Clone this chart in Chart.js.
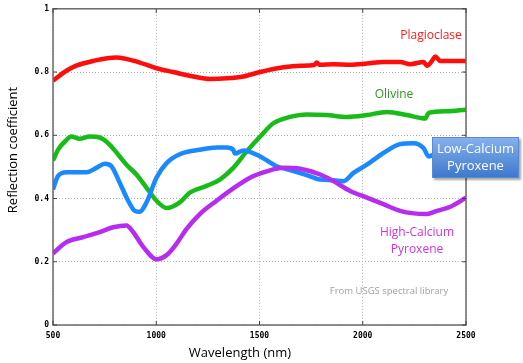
<!DOCTYPE html>
<html>
<head>
<meta charset="utf-8">
<script src="https://cdn.jsdelivr.net/npm/chart.js@4.4.1/dist/chart.umd.min.js"></script>
<style>
  html, body { margin: 0; padding: 0; background: #fff; }
  #wrap { width: 523px; height: 363px; }
</style>
</head>
<body>
<div id="wrap"><canvas id="chart" width="523" height="363"></canvas></div>
<script>
// Spectra (wavelength in nm, reflection coefficient)
const plagioclaseNm = [500, 565, 613, 694, 807, 920, 1001, 1082, 1179, 1260, 1341, 1422, 1503, 1616, 1697, 1765, 1777, 1790, 1858, 1939, 2020, 2100, 2181, 2230, 2295, 2311, 2335, 2351, 2376, 2500];
const plagioclaseR  = [0.773, 0.804, 0.820, 0.835, 0.846, 0.830, 0.812, 0.800, 0.786, 0.778, 0.780, 0.786, 0.800, 0.815, 0.820, 0.822, 0.830, 0.823, 0.825, 0.823, 0.827, 0.832, 0.832, 0.825, 0.832, 0.820, 0.835, 0.849, 0.835, 0.835];

const olivineNm = [500, 524, 565, 589, 629, 678, 726, 775, 823, 856, 904, 953, 1001, 1050, 1114, 1163, 1244, 1308, 1373, 1438, 1503, 1567, 1648, 1729, 1826, 1923, 2020, 2117, 2214, 2278, 2303, 2319, 2408, 2500];
const olivineR  = [0.520, 0.554, 0.585, 0.596, 0.589, 0.596, 0.593, 0.570, 0.533, 0.507, 0.476, 0.434, 0.393, 0.370, 0.388, 0.419, 0.440, 0.460, 0.497, 0.549, 0.596, 0.638, 0.658, 0.666, 0.664, 0.658, 0.664, 0.674, 0.664, 0.655, 0.653, 0.671, 0.676, 0.681];

const lowCaNm = [500, 524, 565, 662, 710, 751, 783, 823, 864, 896, 920, 953, 1001, 1050, 1114, 1211, 1292, 1341, 1373, 1381, 1422, 1503, 1583, 1648, 1729, 1794, 1858, 1907, 1955, 2020, 2100, 2181, 2246, 2295, 2319, 2360, 2500];
const lowCaR  = [0.429, 0.471, 0.483, 0.483, 0.497, 0.510, 0.502, 0.450, 0.393, 0.361, 0.358, 0.388, 0.466, 0.512, 0.540, 0.554, 0.561, 0.561, 0.554, 0.542, 0.552, 0.533, 0.502, 0.490, 0.474, 0.460, 0.458, 0.455, 0.481, 0.507, 0.544, 0.572, 0.575, 0.559, 0.533, 0.545, 0.555];

const highCaNm = [500, 565, 646, 726, 791, 856, 888, 937, 1001, 1050, 1098, 1147, 1211, 1292, 1373, 1454, 1535, 1616, 1697, 1794, 1858, 1939, 2020, 2100, 2181, 2246, 2311, 2359, 2424, 2500];
const highCaR  = [0.226, 0.262, 0.278, 0.294, 0.309, 0.315, 0.294, 0.247, 0.208, 0.221, 0.257, 0.304, 0.351, 0.393, 0.432, 0.466, 0.486, 0.497, 0.494, 0.476, 0.455, 0.424, 0.403, 0.382, 0.361, 0.353, 0.351, 0.361, 0.374, 0.403];

const xTicks = [500, 1000, 1500, 2000, 2500];
const yTicks = [0, 0.2, 0.4, 0.6, 0.8, 1];

function toPoints(xs, ys) {
  return xs.map((x, i) => ({ x: x, y: ys[i] }));
}

function line(label, xs, ys, color) {
  return {
    label: label,
    data: toPoints(xs, ys),
    borderColor: color,
    backgroundColor: color,
    borderWidth: 4.5,
    pointRadius: 0,
    tension: 0.35,
    cubicInterpolationMode: "monotone",
    fill: false
  };
}

// frame, inner ticks, axis titles and labels
const decorations = {
  id: "decorations",
  afterDatasetsDraw(chart) {
    const { ctx, chartArea: a, scales } = chart;
    ctx.save();

    // frame
    ctx.strokeStyle = "#6a6a6a";
    ctx.lineWidth = 1.5;
    ctx.strokeRect(a.left, a.top, a.right - a.left, a.bottom - a.top);

    // small inward ticks on every side
    ctx.lineWidth = 1;
    ctx.strokeStyle = "#444";
    ctx.beginPath();
    yTicks.forEach(v => {
      const y = scales.y.getPixelForValue(v);
      ctx.moveTo(a.left, y); ctx.lineTo(a.left + 4, y);
      ctx.moveTo(a.right, y); ctx.lineTo(a.right - 4, y);
    });
    xTicks.forEach(v => {
      const x = scales.x.getPixelForValue(v);
      ctx.moveTo(x, a.bottom); ctx.lineTo(x, a.bottom - 4);
      ctx.moveTo(x, a.top); ctx.lineTo(x, a.top + 4);
    });
    ctx.stroke();

    // curve labels
    ctx.textAlign = "center";
    ctx.textBaseline = "middle";
    ctx.font = "12px 'Open Sans'";
    ctx.fillStyle = "#ff1a1a";
    ctx.fillText("Plagioclase", 431, 36);
    ctx.fillStyle = "#2c9a1c";
    ctx.fillText("Olivine", 394, 95);
    ctx.fillStyle = "#cc33dd";
    ctx.fillText("High-Calcium", 417, 233);
    ctx.fillText("Pyroxene", 417, 250);

    ctx.font = "9.5px 'Open Sans'";
    ctx.fillStyle = "#a0a0a0";
    ctx.fillText("From USGS spectral library", 389, 291);

    // Low-Calcium Pyroxene box
    const bx = 432, by = 137, bw = 87, bh = 41;
    ctx.shadowColor = "rgba(0,0,0,0.35)";
    ctx.shadowOffsetX = 1.5;
    ctx.shadowOffsetY = 1.5;
    ctx.shadowBlur = 2;
    const g = ctx.createLinearGradient(0, by, 0, by + bh);
    g.addColorStop(0, "#86b2ee");
    g.addColorStop(1, "#3d77cc");
    ctx.fillStyle = g;
    ctx.fillRect(bx, by, bw, bh);
    ctx.shadowColor = "transparent";
    ctx.strokeStyle = "#5a8ad0";
    ctx.lineWidth = 1;
    ctx.strokeRect(bx + 0.5, by + 0.5, bw - 1, bh - 1);
    ctx.fillStyle = "#ffffff";
    ctx.font = "13px 'Open Sans'";
    ctx.fillText("Low-Calcium", bx + bw / 2, by + 12);
    ctx.fillText("Pyroxene", bx + bw / 2, by + 29);

    // axis titles
    ctx.fillStyle = "#000";
    ctx.font = "13px 'Open Sans'";
    ctx.fillText("Wavelength (nm)", 240, 353);
    ctx.translate(13, 150);
    ctx.rotate(-Math.PI / 2);
    ctx.fillText("Reflection coefficient", 0, 0);

    ctx.restore();
  }
};

new Chart(document.getElementById("chart"), {
  type: "line",
  data: {
    datasets: [
      line("High-Calcium Pyroxene", highCaNm, highCaR, "#b62cf0"),
      line("Low-Calcium Pyroxene", lowCaNm, lowCaR, "#1a88ff"),
      line("Olivine", olivineNm, olivineR, "#18bb18"),
      line("Plagioclase", plagioclaseNm, plagioclaseR, "#ff0c0c")
    ]
  },
  plugins: [decorations],
  options: {
    responsive: false,
    animation: false,
    layout: { padding: { left: 0, right: 57, top: 5, bottom: 0 } },
    plugins: {
      legend: { display: false },
      tooltip: { enabled: false }
    },
    scales: {
      x: {
        type: "linear",
        min: 500,
        max: 2500,
        afterBuildTicks: s => { s.ticks = xTicks.map(v => ({ value: v })); },
        afterFit: s => { s.height = 38; },
        ticks: {
          color: "#000",
          padding: 6,
          maxRotation: 0,
          font: { family: "'DejaVu Sans Mono'", size: 8, weight: "bold" },
          callback: v => String(v)
        },
        grid: {
          color: "#b0b0b0",
          lineWidth: 1,
          drawTicks: false
        },
        border: { display: false, dash: [1, 2] }
      },
      y: {
        min: 0,
        max: 1,
        afterBuildTicks: s => { s.ticks = yTicks.map(v => ({ value: v })); },
        afterFit: s => { s.width = 53; },
        ticks: {
          color: "#000",
          padding: 4,
          font: { family: "'DejaVu Sans Mono'", size: 8, weight: "bold" },
          callback: v => String(v)
        },
        grid: {
          color: "#b0b0b0",
          lineWidth: 1,
          drawTicks: false
        },
        border: { display: false, dash: [1, 2] }
      }
    }
  }
});
</script>
</body>
</html>
